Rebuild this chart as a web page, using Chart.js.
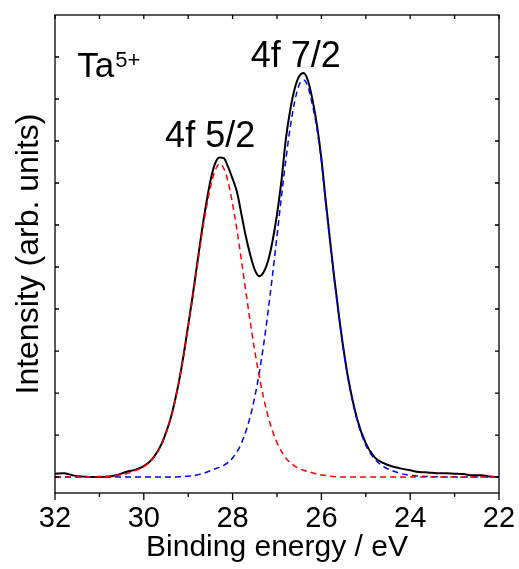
<!DOCTYPE html>
<html>
<head>
<meta charset="utf-8">
<script src="https://cdn.jsdelivr.net/npm/chart.js@4.4.1/dist/chart.umd.min.js"></script>
<style>
  body { margin: 0; background: #fff; }
  #wrap { width: 519px; height: 569px; }
</style>
</head>
<body>
<div id="wrap"><canvas id="xpsChart"></canvas></div>
<script>
// binding energy (eV)
var energy = [32.0, 31.8, 31.6, 31.4, 31.2, 31.0, 30.8, 30.6, 30.4, 30.2, 30.0, 29.8, 29.6,
  29.4, 29.3, 29.2, 29.1, 29.0, 28.9, 28.8, 28.7, 28.6, 28.5, 28.4, 28.3, 28.2, 28.1, 28.0,
  27.9, 27.8, 27.7, 27.6, 27.5, 27.4, 27.3, 27.2, 27.1, 27.0, 26.9, 26.8, 26.7, 26.6, 26.5,
  26.4, 26.3, 26.2, 26.1, 26.0, 25.9, 25.8, 25.7, 25.6, 25.5, 25.4,
  25.2, 25.0, 24.8, 24.6, 24.4, 24.2, 24.0, 23.8, 23.6, 23.4, 23.2, 23.0, 22.8, 22.6, 22.4, 22.2, 22.0];

// measured spectrum (black)
var measured = [0.08, 0.09, 0.04, 0.01, 0.0, 0.0, 0.01, 0.05, 0.12, 0.17, 0.26, 0.44, 0.79,
  1.38, 1.81, 2.32, 2.93, 3.61, 4.31, 5.06, 5.80, 6.47, 7.05, 7.45, 7.61, 7.59, 7.38, 7.10,
  6.78, 6.25, 5.72, 5.28, 4.93, 4.78, 4.88, 5.15, 5.62, 6.25, 7.05, 8.05, 8.75, 9.25, 9.54,
  9.62, 9.43, 8.98, 8.38, 7.58, 6.55, 5.58, 4.65, 3.80, 3.03, 2.37,
  1.40, 0.80, 0.47, 0.33, 0.25, 0.20, 0.16, 0.12, 0.11, 0.09, 0.09, 0.08, 0.07, 0.04, 0.04, 0.01, 0.0];

// fitted 4f 5/2 component (red dashed)
var fit52 = [0, 0, 0, 0, 0.005, 0.01, 0.02, 0.04, 0.08, 0.15, 0.25, 0.43, 0.77,
  1.37, 1.80, 2.31, 2.91, 3.58, 4.26, 5.00, 5.72, 6.36, 6.90, 7.28, 7.45, 7.35, 7.02, 6.50,
  5.87, 5.15, 4.40, 3.68, 3.00, 2.40, 1.88, 1.44, 1.09, 0.82, 0.61, 0.45, 0.34, 0.26, 0.20,
  0.16, 0.13, 0.10, 0.07, 0.05, 0.035, 0.02, 0.01, 0.005, 0, 0,
  0, 0, 0, 0, 0, 0, 0, 0, 0, 0, 0, 0, 0, 0, 0, 0, 0];

// fitted 4f 7/2 component (blue dashed)
var fit72 = [0, 0, 0, 0, 0, 0, 0, 0, 0, 0, 0, 0, 0,
  0, 0.002, 0.005, 0.01, 0.02, 0.03, 0.05, 0.08, 0.11, 0.15, 0.19, 0.23, 0.28, 0.35, 0.455,
  0.60, 0.81, 1.09, 1.45, 1.91, 2.48, 3.16, 3.95, 4.82, 5.74, 6.67, 7.56, 8.34, 8.95, 9.34,
  9.45, 9.28, 8.85, 8.30, 7.52, 6.50, 5.55, 4.63, 3.78, 3.02, 2.36,
  1.37, 0.76, 0.43, 0.25, 0.15, 0.08, 0.04, 0.02, 0.01, 0.005, 0, 0, 0, 0, 0, 0, 0];

var xTickValues = [22, 23, 24, 25, 26, 27, 28, 29, 30, 31, 32];
var yTickValues = [0, 1, 2, 3, 4, 5, 6, 7, 8, 9, 10];

var fontFamily = "'Liberation Sans', Arial, Helvetica, sans-serif";
Chart.defaults.font.family = fontFamily;
Chart.defaults.color = "#000";

function points(values) {
  return energy.map(function (e, i) {
    return { x: e, y: values[i] };
  });
}

// frame, inward/outward tick marks and the peak labels
var frameAndLabels = {
  id: "frameAndLabels",
  afterDraw: function (chart) {
    var ctx = chart.ctx;
    var a = chart.chartArea;
    var x = chart.scales.x;
    var y = chart.scales.y;
    ctx.save();
    ctx.strokeStyle = "#000";
    ctx.lineWidth = 1.3;
    ctx.strokeRect(a.left, a.top, a.right - a.left, a.bottom - a.top);
    ctx.beginPath();
    x.ticks.forEach(function (t) {
      var px = x.getPixelForValue(t.value);
      ctx.moveTo(px, a.bottom);
      ctx.lineTo(px, a.bottom + (t.value % 2 === 0 ? 7 : 4));
      ctx.moveTo(px, a.top);
      ctx.lineTo(px, a.top + 4);
    });
    y.ticks.forEach(function (t) {
      var py = y.getPixelForValue(t.value);
      ctx.moveTo(a.left, py);
      ctx.lineTo(a.left + 4, py);
      ctx.moveTo(a.right, py);
      ctx.lineTo(a.right - 4, py);
    });
    ctx.stroke();

    ctx.fillStyle = "#000";
    ctx.textAlign = "left";
    ctx.textBaseline = "alphabetic";
    ctx.font = "36px " + fontFamily;
    ctx.fillText("4f 5/2", x.getPixelForValue(29.52), y.getPixelForValue(7.85));
    ctx.fillText("4f 7/2", x.getPixelForValue(27.59), y.getPixelForValue(9.77));
    var tx = x.getPixelForValue(31.5);
    var ty = y.getPixelForValue(9.53);
    ctx.font = "35px " + fontFamily;
    ctx.fillText("Ta", tx, ty);
    var w = ctx.measureText("Ta").width;
    ctx.font = "22px " + fontFamily;
    ctx.fillText("5+", tx + w + 1, ty - 10);
    ctx.restore();
  }
};

var ctx = document.getElementById("xpsChart");

new Chart(ctx, {
  type: "line",
  data: {
    datasets: [
      {
        label: "4f 5/2 fit",
        data: points(fit52),
        borderColor: "#ff0000",
        borderWidth: 1.5,
        borderDash: [6, 4],
        pointRadius: 0,
        fill: false,
        cubicInterpolationMode: "monotone"
      },
      {
        label: "4f 7/2 fit",
        data: points(fit72),
        borderColor: "#0000ff",
        borderWidth: 1.5,
        borderDash: [6, 4],
        pointRadius: 0,
        fill: false,
        cubicInterpolationMode: "monotone"
      },
      {
        label: "measured",
        data: points(measured),
        borderColor: "#000",
        borderWidth: 2,
        pointRadius: 0,
        fill: false,
        cubicInterpolationMode: "monotone"
      }
    ]
  },
  options: {
    responsive: true,
    maintainAspectRatio: false,
    animation: false,
    layout: { padding: { top: 15, right: 20, left: 0, bottom: 0 } },
    plugins: {
      legend: { display: false },
      tooltip: { enabled: false }
    },
    scales: {
      x: {
        type: "linear",
        reverse: true,
        min: 22,
        max: 32,
        afterBuildTicks: function (scale) {
          scale.ticks = xTickValues.map(function (v) { return { value: v }; });
        },
        afterFit: function (scale) { scale.height = 76; },
        ticks: {
          autoSkip: false,
          maxRotation: 0,
          padding: 9,
          font: { size: 29 },
          callback: function (v) { return v % 2 === 0 ? String(v) : ""; }
        },
        grid: { display: false, drawTicks: false },
        border: { display: false },
        title: {
          display: true,
          text: "Binding energy / eV",
          font: { size: 30 },
          padding: { top: 0, bottom: 3 }
        }
      },
      y: {
        type: "linear",
        min: -0.38,
        max: 11,
        afterBuildTicks: function (scale) {
          scale.ticks = yTickValues.map(function (v) { return { value: v }; });
        },
        afterFit: function (scale) { scale.width = 55; },
        ticks: { display: false },
        grid: { display: false, drawTicks: false },
        border: { display: false },
        title: {
          display: true,
          text: "Intensity (arb. units)",
          font: { size: 32 },
          padding: { top: 10, bottom: 0 }
        }
      }
    }
  },
  plugins: [frameAndLabels]
});
</script>
</body>
</html>
